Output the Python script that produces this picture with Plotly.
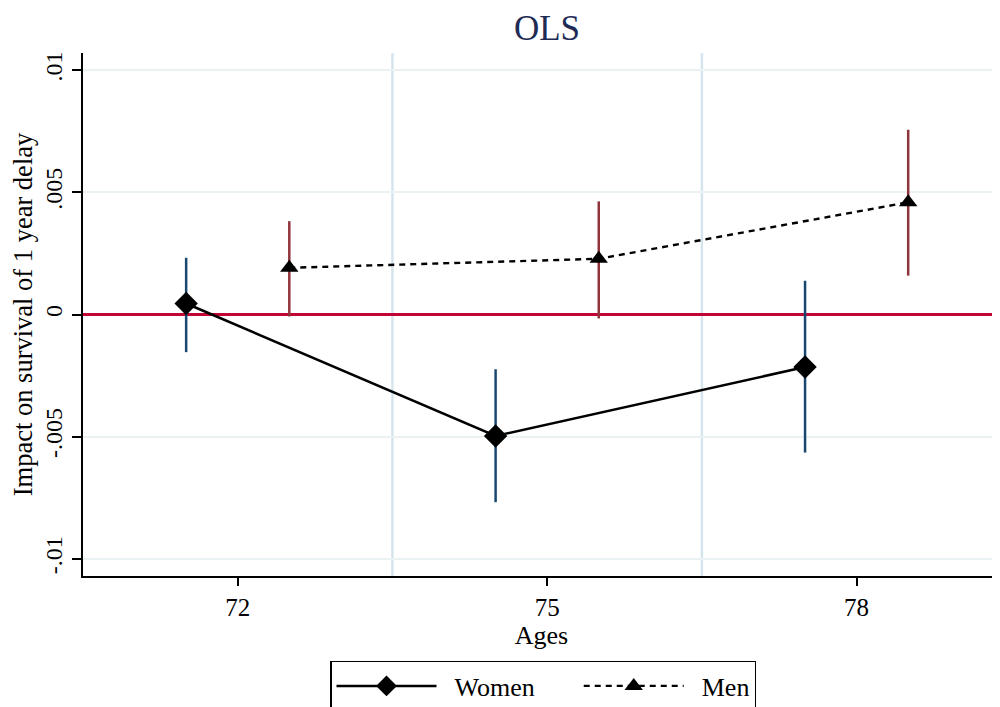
import plotly.graph_objects as go

women_age = [71.5, 74.5, 77.5]
women_est = [0.00045, -0.00497, -0.00215]
women_hi = [0.00232, -0.00224, 0.00138]
women_lo = [-0.00154, -0.00768, -0.00565]

men_age = [72.5, 75.5, 78.5]
men_est = [0.00191, 0.00228, 0.00459]
men_hi = [0.00382, 0.00463, 0.00756]
men_lo = [-0.00008, -0.00016, 0.00159]

x_ticks = [72, 75, 78]
y_ticks = [-0.01, -0.005, 0, 0.005, 0.01]
y_ticklabels = ["-.01", "-.005", "0", ".005", ".01"]
vlines = [73.5, 76.5]

FONT = "Liberation Serif, Times New Roman, serif"
NB = "\u00a0"

fig = go.Figure()
fig.add_trace(go.Scatter(
    x=women_age, y=women_est, mode="lines+markers", name=NB * 2 + "Women" + NB * 6,
    line=dict(color="black", width=2.5),
    marker=dict(symbol="diamond", size=18, color="black"),
    error_y=dict(type="data", symmetric=False,
                 array=[h - e for h, e in zip(women_hi, women_est)],
                 arrayminus=[e - l for e, l in zip(women_est, women_lo)],
                 color="#1a476f", thickness=2.5, width=0),
))
fig.add_trace(go.Scatter(
    x=men_age, y=men_est, mode="lines+markers", name=NB * 2 + "Men",
    line=dict(color="black", width=2.4, dash="6px,5px"),
    marker=dict(symbol="triangle-up", size=16, color="black"),
    error_y=dict(type="data", symmetric=False,
                 array=[h - e for h, e in zip(men_hi, men_est)],
                 arrayminus=[e - l for e, l in zip(men_est, men_lo)],
                 color="#90353b", thickness=2.5, width=0),
))

for v in vlines:
    fig.add_shape(type="line", xref="x", yref="paper", x0=v, x1=v, y0=0, y1=1,
                  line=dict(color="#d6e4ee", width=2.5), layer="below")

fig.update_layout(
    width=992, height=699,
    margin=dict(l=75, r=0, t=45, b=131, autoexpand=False),
    paper_bgcolor="white", plot_bgcolor="white",
    font=dict(family=FONT, color="black", size=24),
    title=dict(text="OLS", xref="paper", x=(547 - 83) / 917, xanchor="center",
               y=1 - 20 / 699, yanchor="middle",
               font=dict(family=FONT, size=35, color="#1e2c55")),
    showlegend=True,
    legend=dict(orientation="h", x=(543 - 83) / 917, xanchor="center", y=-0.1625, yanchor="top",
                bordercolor="black", borderwidth=1.5, font=dict(size=26, family=FONT),
                itemwidth=100, bgcolor="white"),
    xaxis=dict(range=[70.5, 79.39], tickvals=x_ticks, showgrid=False, zeroline=False,
               showline=True, linecolor="black", linewidth=2, ticks="outside",
               ticklen=8, tickwidth=1.5, tickcolor="black", automargin=False,
               title=dict(text="Ages", font=dict(size=26), standoff=2),
               tickfont=dict(size=25)),
    yaxis=dict(range=[-0.0107, 0.0107], tickvals=y_ticks, ticktext=y_ticklabels,
               tickangle=-90, showgrid=True, gridcolor="#eaf2f3", gridwidth=2,
               zeroline=True, zerolinecolor="#c10534", zerolinewidth=2.5,
               showline=True, linecolor="black", linewidth=2, ticks="outside",
               ticklen=9, tickwidth=1.5, tickcolor="black", automargin=False,
               title=dict(text="Impact on survival of 1 year delay", font=dict(size=26.5), standoff=6),
               tickfont=dict(size=24)),
)

fig.write_html("out.html")
